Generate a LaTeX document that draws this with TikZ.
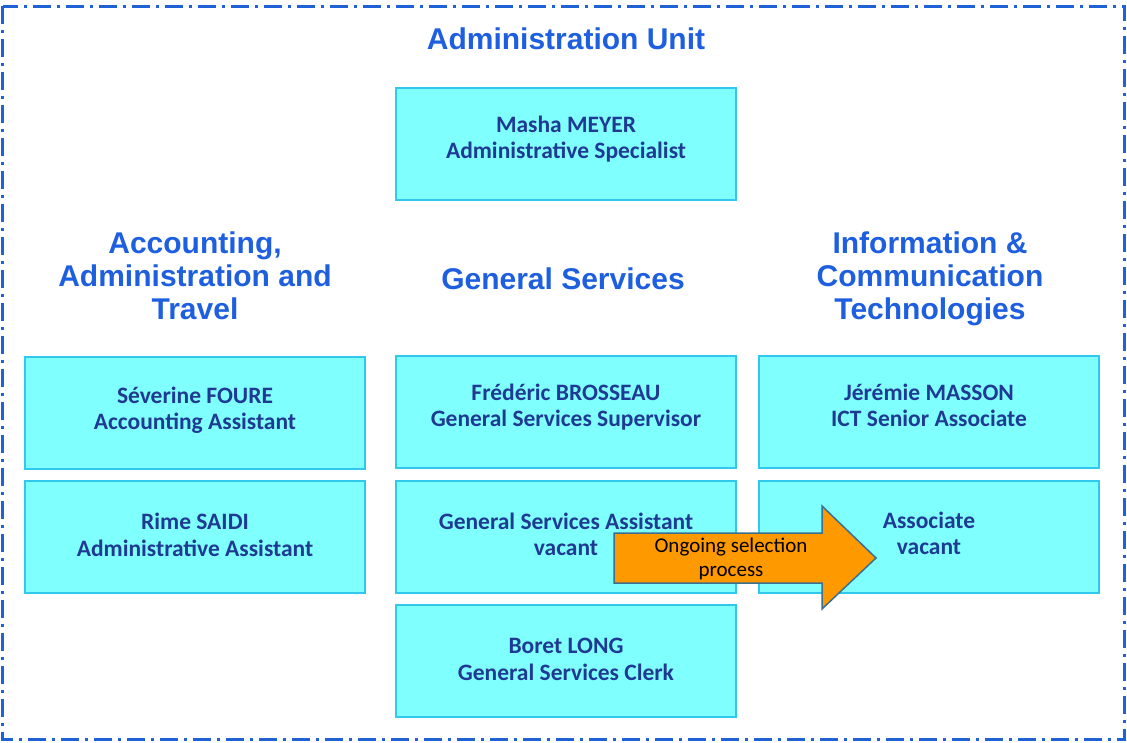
\documentclass[tikz,border=0pt]{standalone}
\usepackage{fontspec}
\setmainfont{Carlito}
\newfontfamily\headfont{Liberation Sans}
\begin{document}
\begin{tikzpicture}[x=1pt,y=-1pt,
  box/.style={draw=boxline,fill=boxfill,line width=2pt,minimum width=340pt,minimum height=112pt,inner sep=0pt},
  boxtxt/.style={align=center,font=\fontsize{23.5}{26.5}\selectfont\bfseries,text=boxtext,inner sep=0pt},
  head/.style={align=center,font=\headfont\fontsize{30}{33}\selectfont\bfseries,text=headblue,inner sep=0pt}]
\definecolor{boxfill}{HTML}{80FFFF}
\definecolor{boxline}{HTML}{30C8EC}
\definecolor{boxtext}{HTML}{1F3A93}
\definecolor{headblue}{HTML}{1E5FE0}
\definecolor{frameblue}{HTML}{1F62D6}
\definecolor{arrowfill}{HTML}{FF9900}
\definecolor{arrowline}{HTML}{3A6F8F}
\useasboundingbox (0,0) rectangle (1127,742);
\draw[frameblue,line width=3pt,dash pattern=on 18pt off 6pt on 3pt off 6pt] (2.5,6) rectangle (1124.5,739.5);
\node[head] (tAU) at (566,39) {Administration Unit};
\node[head] (tAcc) at (195,276) {Accounting,\\Administration and\\Travel};
\node[head] (tGS) at (563,279) {General Services};
\node[head] (tICT) at (930,279) {Information \&\\Communication\\Technologies};
\node[box] (masha) at (566,144) {};
\node[box] (sev) at (195,412.5) {};
\node[box] (rime) at (195,537) {};
\node[box] (fred) at (566,411.5) {};
\node[box] (gsa) at (566,537) {};
\node[box] (boret) at (566,661) {};
\node[box] (jer) at (929,411.5) {};
\node[box] (assoc) at (929,537) {};
\node[boxtxt] (mashat) at ([yshift=5pt]masha.center) {Masha MEYER\\Administrative Specialist};
\node[boxtxt] (sevt) at ([yshift=2.5pt]sev.center) {S\'everine FOURE\\Accounting Assistant};
\node[boxtxt] (rimet) at ([yshift=2pt]rime.center) {Rime SAIDI\\Administrative Assistant};
\node[boxtxt] (fredt) at ([yshift=4.5pt]fred.center) {Fr\'ed\'eric BROSSEAU\\General Services Supervisor};
\node[boxtxt] (gsat) at ([yshift=2.5pt]gsa.center) {General Services Assistant\\vacant};
\node[boxtxt] (borett) at ([yshift=1.5pt]boret.center) {Boret LONG\\General Services Clerk};
\node[boxtxt] (jert) at ([yshift=6pt]jer.center) {J\'er\'emie MASSON\\ICT Senior Associate};
\node[boxtxt] (assoct) at ([yshift=3.5pt]assoc.center) {Associate\\vacant};
\draw[arrowline,fill=arrowfill,line width=1.5pt,line join=miter]
  (614,533) -- (822,533) -- (822,506) -- (876,558) -- (822,609) -- (822,583) -- (614,583) -- cycle;
\node[align=center,font=\fontsize{21}{24}\selectfont,inner sep=0pt] (arr) at (731,559) {Ongoing selection\\process};
\end{tikzpicture}
\end{document}
